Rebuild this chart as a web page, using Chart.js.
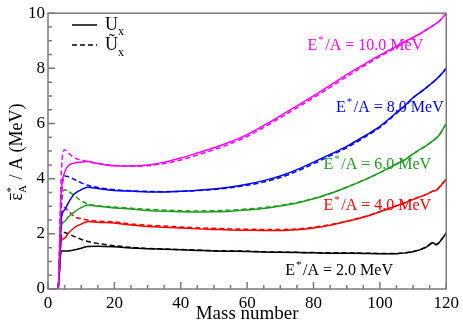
<!DOCTYPE html>
<html>
<head>
<meta charset="utf-8">
<script src="https://cdn.jsdelivr.net/npm/chart.js@4.4.1/dist/chart.umd.min.js"></script>
<style>
  html, body { margin: 0; padding: 0; background: #fff; }
</style>
</head>
<body>
<canvas id="myChart" width="463" height="323"></canvas>
<script>
// mass numbers (shared x values for every curve)
const massNumbers = [1,2,3,4,5,6,8,10,12,15,20,25,30,35,40,45,50,55,60,65,70,75,80,85,90,95,100,105,108,110,112,114,116,117,118,120];

// U_x (solid) and U~_x (dashed) for each E*/A
const ux2  = [0,0,0,1.38,1.38,1.38,1.42,1.48,1.54,1.55,1.53,1.49,1.46,1.44,1.42,1.40,1.38,1.37,1.36,1.34,1.33,1.32,1.31,1.30,1.30,1.29,1.28,1.28,1.31,1.35,1.42,1.52,1.68,1.60,1.70,2.03];
const ut2  = [0,0,0,1.90,2.05,2.00,1.90,1.80,1.72,1.65,1.57,1.51,1.47,1.45,1.43,1.41,1.39,1.38,1.37,1.35,1.34,1.33,1.32,1.31,1.31,1.30,1.29,1.29,1.32,1.36,1.43,1.53,1.68,1.61,1.71,2.03];
const ux4  = [0,0,0,1.74,1.84,2.00,2.23,2.35,2.45,2.42,2.39,2.32,2.27,2.24,2.21,2.18,2.16,2.14,2.13,2.12,2.12,2.15,2.21,2.31,2.45,2.60,2.80,3.02,3.15,3.25,3.34,3.43,3.55,3.58,3.70,3.98];
const ut4  = [0,0,0,2.40,2.95,2.85,2.62,2.55,2.50,2.46,2.43,2.36,2.31,2.28,2.25,2.22,2.20,2.18,2.17,2.16,2.16,2.18,2.24,2.33,2.46,2.61,2.80,3.02,3.15,3.25,3.34,3.43,3.55,3.58,3.70,3.98];
const ux6  = [0,0,0,2.27,2.45,2.60,2.80,2.95,3.05,3.00,2.94,2.90,2.85,2.82,2.80,2.79,2.80,2.82,2.86,2.92,3.01,3.12,3.27,3.46,3.69,3.94,4.22,4.53,4.72,4.90,5.05,5.20,5.38,5.47,5.60,6.00];
const ut6  = [0,0,0,2.90,3.60,3.55,3.38,3.20,3.08,3.02,2.97,2.93,2.89,2.86,2.84,2.83,2.84,2.86,2.90,2.95,3.03,3.13,3.28,3.46,3.69,3.94,4.22,4.53,4.72,4.90,5.05,5.20,5.38,5.47,5.60,6.00];
const ux8  = [0,0,0,2.56,2.86,3.10,3.45,3.60,3.69,3.64,3.57,3.55,3.52,3.52,3.54,3.58,3.63,3.70,3.80,3.93,4.10,4.33,4.60,4.88,5.17,5.52,5.90,6.40,6.70,6.94,7.12,7.30,7.50,7.60,7.72,8.00];
const ut8  = [0,0,0,3.30,4.10,4.08,3.97,3.85,3.76,3.68,3.60,3.56,3.54,3.53,3.54,3.57,3.61,3.67,3.76,3.88,4.04,4.27,4.54,4.83,5.12,5.47,5.86,6.37,6.68,6.93,7.11,7.30,7.50,7.60,7.72,8.00];
const ux10 = [0,0,0,3.50,4.22,4.45,4.57,4.60,4.62,4.55,4.47,4.46,4.50,4.60,4.75,4.93,5.12,5.34,5.60,5.93,6.28,6.64,7.00,7.38,7.77,8.13,8.48,8.80,9.00,9.12,9.25,9.40,9.55,9.63,9.72,10.00];
const ut10 = [0,0,0,4.20,5.05,4.95,4.75,4.68,4.62,4.55,4.48,4.45,4.47,4.55,4.68,4.86,5.05,5.27,5.53,5.86,6.21,6.57,6.93,7.31,7.70,8.07,8.43,8.76,8.97,9.10,9.24,9.40,9.55,9.63,9.72,10.00];

const energyLabels = ['10.0', '8.0', '6.0', '4.0', '2.0'];
const curveColors = ['#ff00ff', '#0000ff', '#1f9b1f', '#ff0000', '#000000'];
const solidSeries = [ux10, ux8, ux6, ux4, ux2];
const dashedSeries = [ut10, ut8, ut6, ut4, ut2];

const xTicks = [0, 20, 40, 60, 80, 100, 120];
const yTicks = [0, 2, 4, 6, 8, 10];

const serif = '"Liberation Serif", "Times New Roman", serif';

function toPoints(values) {
    return massNumbers.map((m, i) => ({ x: m, y: values[i] }));
}

const datasets = [];
for (let i = 0; i < solidSeries.length; i++) {
    datasets.push({
        label: 'Ux ' + energyLabels[i],
        data: toPoints(solidSeries[i]),
        borderColor: curveColors[i],
        borderWidth: 1.5,
        pointRadius: 0,
        cubicInterpolationMode: 'monotone'
    });
    datasets.push({
        label: 'U~x ' + energyLabels[i],
        data: toPoints(dashedSeries[i]),
        borderColor: curveColors[i],
        borderWidth: 1.5,
        borderDash: [5, 3],
        pointRadius: 0,
        cubicInterpolationMode: 'monotone'
    });
}

// where each E*/A label sits (data coords of the left end of the baseline)
const labelSpots = [
    { x: 78.2, y: 8.65 },
    { x: 86.8, y: 6.42 },
    { x: 83, y: 4.36 },
    { x: 83, y: 2.87 },
    { x: 71.5, y: 0.5 }
];

const decorPlugin = {
    id: 'decor',
    afterDatasetsDraw(chart) {
        const ctx = chart.ctx;
        const a = chart.chartArea;
        const xs = chart.scales.x;
        const ys = chart.scales.y;
        ctx.save();

        // frame
        ctx.strokeStyle = '#7a7a7a';
        ctx.lineWidth = 1.5;
        ctx.strokeRect(a.left, a.top, a.right - a.left, a.bottom - a.top);

        // inward ticks
        ctx.beginPath();
        for (let v = 0; v <= 120; v += 5) {
            const px = xs.getPixelForValue(v);
            const len = v % 20 === 0 ? 7 : 4;
            ctx.moveTo(px, a.bottom);
            ctx.lineTo(px, a.bottom - len);
        }
        for (let v = 0; v <= 10; v += 0.5) {
            const py = ys.getPixelForValue(v);
            const len = Math.abs(v % 2) < 1e-6 ? 7 : 4;
            ctx.moveTo(a.left, py);
            ctx.lineTo(a.left + len, py);
        }
        ctx.stroke();

        // curve labels
        ctx.textBaseline = 'alphabetic';
        ctx.textAlign = 'left';
        labelSpots.forEach((s, i) => {
            const px = xs.getPixelForValue(s.x);
            const py = ys.getPixelForValue(s.y);
            ctx.fillStyle = curveColors[i];
            ctx.font = '16px ' + serif;
            ctx.fillText('E', px, py);
            const w = ctx.measureText('E').width;
            ctx.font = '11px ' + serif;
            ctx.fillText('*', px + w + 1, py - 7);
            ctx.font = '16px ' + serif;
            ctx.fillText('/A = ' + energyLabels[i] + ' MeV', px + w + 8, py);
        });

        // legend
        ctx.strokeStyle = '#000';
        ctx.lineWidth = 1.5;
        ctx.beginPath();
        ctx.moveTo(72, 25); ctx.lineTo(97, 25);
        ctx.stroke();
        ctx.setLineDash([5, 3]);
        ctx.beginPath();
        ctx.moveTo(72, 45); ctx.lineTo(97, 45);
        ctx.stroke();
        ctx.setLineDash([]);
        ctx.fillStyle = '#000';
        ctx.font = '18px ' + serif;
        ctx.fillText('U', 105, 30);
        ctx.fillText('\u0168', 105, 50);
        ctx.font = '12px ' + serif;
        ctx.fillText('x', 118, 35);
        ctx.fillText('x', 118, 56);

        // x title
        ctx.font = '19px ' + serif;
        ctx.textAlign = 'center';
        ctx.fillText('Mass number', (a.left + a.right) / 2, 319);

        // y title (rotated)
        ctx.translate(22, 152);
        ctx.rotate(-Math.PI / 2);
        ctx.textAlign = 'left';
        ctx.font = '18px ' + serif;
        const eps = '\u03b5';
        const rest = ' / A (MeV)';
        const wEps = ctx.measureText(eps).width;
        ctx.font = '11px ' + serif;
        const wSub = ctx.measureText('A').width;
        ctx.font = '18px ' + serif;
        const wRest = ctx.measureText(rest).width;
        const total = wEps + wSub + 1 + wRest;
        let cx = -total / 2;
        ctx.fillText(eps, cx, 0);
        // bar over epsilon
        ctx.lineWidth = 1;
        ctx.beginPath();
        ctx.moveTo(cx + 0.5, -11.5);
        ctx.lineTo(cx + wEps - 0.5, -11.5);
        ctx.stroke();
        cx += wEps;
        ctx.font = '11px ' + serif;
        ctx.fillText('*', cx + 0.5, -8);
        ctx.fillText('A', cx, 4);
        cx += wSub + 1;
        ctx.font = '18px ' + serif;
        ctx.fillText(rest, cx, 0);

        ctx.restore();
    }
};

const ctx = document.getElementById('myChart');

new Chart(ctx, {
    type: 'line',
    data: { datasets: datasets },
    options: {
        responsive: false,
        animation: false,
        layout: { padding: { top: 7, right: 15, left: 0, bottom: 0 } },
        plugins: {
            legend: { display: false },
            tooltip: { enabled: false }
        },
        scales: {
            x: {
                type: 'linear',
                min: 0,
                max: 120,
                afterBuildTicks: (s) => { s.ticks = xTicks.map(v => ({ value: v })); },
                afterFit: (s) => { s.height = 34; },
                grid: { display: false, drawTicks: false },
                border: { display: false },
                ticks: { color: '#000', font: { family: serif, size: 17 }, padding: 4, maxRotation: 0, autoSkip: false }
            },
            y: {
                type: 'linear',
                min: 0,
                max: 10,
                afterBuildTicks: (s) => { s.ticks = yTicks.map(v => ({ value: v })); },
                afterFit: (s) => { s.width = 48; },
                grid: { display: false, drawTicks: false },
                border: { display: false },
                ticks: { color: '#000', font: { family: serif, size: 17 }, padding: 3 }
            }
        }
    },
    plugins: [decorPlugin]
});
</script>
</body>
</html>
